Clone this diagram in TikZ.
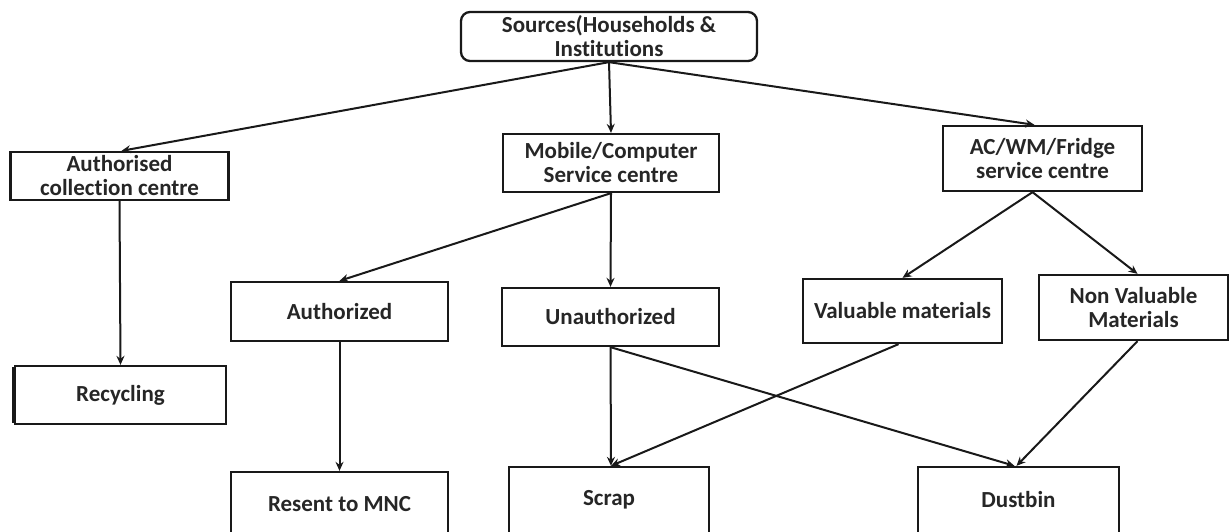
\documentclass[tikz,border=0pt]{standalone}
\usepackage{fontspec}
\setmainfont{Carlito}[Ligatures=NoCommon]
\usetikzlibrary{arrows.meta}
\begin{document}
\begin{tikzpicture}[x=1pt,y=-1pt,
  box/.style={draw=black!90,line width=2.3pt,rectangle,align=center,inner sep=0pt,
    font=\fontsize{23}{24}\selectfont\bfseries,text=black!85},
  arr/.style={draw=black!90,line width=2pt,-{Stealth[length=9pt,width=8pt]}}]
\useasboundingbox[fill=white] (0,0) rectangle (1230,531);
\clip (0,0) rectangle (1230,531);
\node[box,rounded corners=9pt,minimum width=296pt,minimum height=49pt] (src) at (609,36.5) {Sources(Households \&\\Institutions};
\node[box,minimum width=218pt,minimum height=48pt] (acc) at (119.5,176) {Authorised\\collection centre};
\node[box,minimum width=216pt,minimum height=58pt] (mob) at (611,163) {Mobile/Computer\\Service centre};
\node[box,minimum width=199pt,minimum height=65pt] (ac) at (1042.5,158.5) {AC/WM/Fridge\\service centre};
\node[box,minimum width=211pt,minimum height=58pt] (rec) at (120.5,395) {Recycling};
\node[box,minimum width=217pt,minimum height=59pt] (authz) at (339.5,311.5) {Authorized};
\node[box,minimum width=217pt,minimum height=58pt] (unauth) at (610.5,317) {Unauthorized};
\node[box,minimum width=199pt,minimum height=64pt] (val) at (902.5,311) {Valuable materials};
\node[box,minimum width=189pt,minimum height=65pt] (nonval) at (1133.5,307.5) {Non Valuable\\Materials};
\node[box,minimum width=217pt,minimum height=64pt] (resent) at (339.5,504) {Resent to MNC};
\node[box,minimum width=200pt,minimum height=66pt] (scrap) at (609,500) {Scrap};
\node[box,minimum width=201pt,minimum height=66pt] (dust) at (1018.5,500) {Dustbin};
\draw[black!90,line width=4.5pt] ([yshift=-2pt]rec.north west) -- ([yshift=2pt]rec.south west);
\draw[arr] (src.south) -- ([xshift=2pt]acc.north);
\draw[arr] (src.south) -- (mob.north);
\draw[arr] (src.south) -- ([xshift=-8pt]ac.north);
\draw[arr] (acc.south) -- (rec.north);
\draw[arr] (mob.south) -- (authz.north);
\draw[arr] (mob.south) -- (unauth.north);
\draw[arr] ([xshift=-10pt]ac.south) -- (val.north);
\draw[arr] ([xshift=-10pt]ac.south) -- ([xshift=4pt]nonval.north);
\draw[arr] (authz.south) -- (resent.north);
\draw[arr] (unauth.south) -- ([xshift=2pt]scrap.north);
\draw[arr] (unauth.south) -- ([xshift=-4pt]dust.north);
\draw[arr] ([xshift=-4pt]val.south) -- ([xshift=2pt]scrap.north);
\draw[arr] ([xshift=4pt]nonval.south) -- ([xshift=-2pt]dust.north);
\end{tikzpicture}
\end{document}
